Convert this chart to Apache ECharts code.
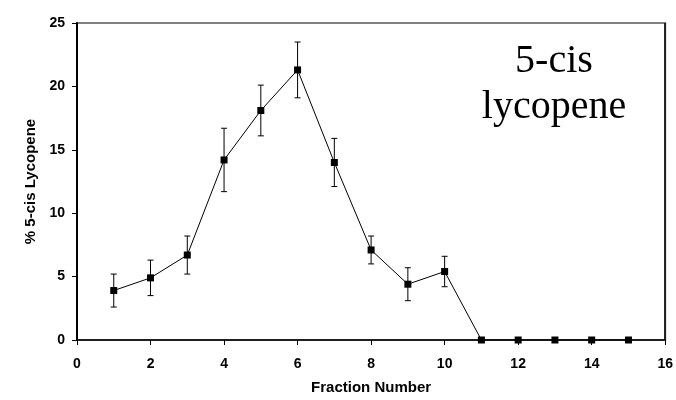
<!DOCTYPE html>
<html><head><meta charset="utf-8">
<script src="https://cdn.jsdelivr.net/npm/echarts@6/dist/echarts.min.js"></script>
<style>html,body{margin:0;padding:0;background:#fff;overflow:hidden}#c{width:676px;height:400px}</style>
</head><body><div id="c"></div>
<script>
var fractions = [1,2,3,4,5,6,7,8,9,10,11,12,13,14,15];
var values = [3.9,4.9,6.7,14.2,18.1,21.3,14.0,7.1,4.4,5.4,0,0,0,0,0];
var errors = [1.3,1.4,1.5,2.5,2.0,2.2,1.9,1.1,1.3,1.2,0,0,0,0,0];
var xTicks = [0,2,4,6,8,10,12,14,16];
var yTicks = [0,5,10,15,20,25];

var chart = echarts.init(document.getElementById('c'));
var xMax = xTicks[xTicks.length-1];
var lineData = fractions.map(function(f,i){return [f, values[i]];});
var errData = fractions.map(function(f,i){return [f, values[i]-errors[i], values[i]+errors[i]];}).filter(function(d,i){return errors[i]>0;});
var lab = {fontFamily:'Liberation Sans, Arial', fontWeight:'bold', fontSize:14, color:'#000'};
var nm = {fontFamily:'Liberation Sans, Arial', fontWeight:'bold', fontSize:15, color:'#000'};
chart.setOption({
  animation:false,
  grid:{left:77,right:10,top:23,bottom:57, show:true, borderColor:'#808080', borderWidth:2, backgroundColor:'transparent'},
  title:{text:'5-cis\nlycopene', left:549, top:33, textAlign:'center',
    textStyle:{fontFamily:'Liberation Serif, Times New Roman', fontWeight:'normal', fontSize:40, lineHeight:46, color:'#000'}},
  xAxis:{type:'value', min:xTicks[0], max:xMax, interval:2,
    name:'Fraction Number', nameLocation:'middle', nameGap:40, nameTextStyle:nm,
    axisLine:{show:true,onZero:false,lineStyle:{color:'#000',width:1.5}},
    axisTick:{show:true,length:5,lineStyle:{color:'#000'}},
    axisLabel:Object.assign({margin:17},lab), splitLine:{show:false}},
  yAxis:{type:'value', min:yTicks[0], max:yTicks[yTicks.length-1], interval:5,
    name:'% 5-cis Lycopene', nameLocation:'middle', nameGap:35, nameTextStyle:nm,
    axisLine:{show:true,onZero:false,lineStyle:{color:'#000',width:2}},
    axisTick:{show:true,length:5,lineStyle:{color:'#000'}},
    axisLabel:Object.assign({margin:12},lab), splitLine:{show:false}},
  series:[
    {type:'custom', data:errData, z:3,
     renderItem:function(params, api){
       var x=api.value(0), lo=api.coord([x,api.value(1)]), hi=api.coord([x,api.value(2)]);
       var w=3, st={stroke:'#000',lineWidth:1};
       return {type:'group',children:[
         {type:'line',shape:{x1:lo[0],y1:lo[1],x2:hi[0],y2:hi[1]},style:st},
         {type:'line',shape:{x1:lo[0]-w,y1:lo[1],x2:lo[0]+w,y2:lo[1]},style:st},
         {type:'line',shape:{x1:hi[0]-w,y1:hi[1],x2:hi[0]+w,y2:hi[1]},style:st}]};
     }},
    {type:'line', data:lineData, symbol:'rect', symbolSize:7, z:4,
     lineStyle:{color:'#000',width:1}, itemStyle:{color:'#000'},
     markLine:{silent:true, symbol:'none', label:{show:false},
       lineStyle:{color:'#000',width:1.5,type:'solid'}, data:[{xAxis:xMax}]}}
  ]
});
</script></body></html>
